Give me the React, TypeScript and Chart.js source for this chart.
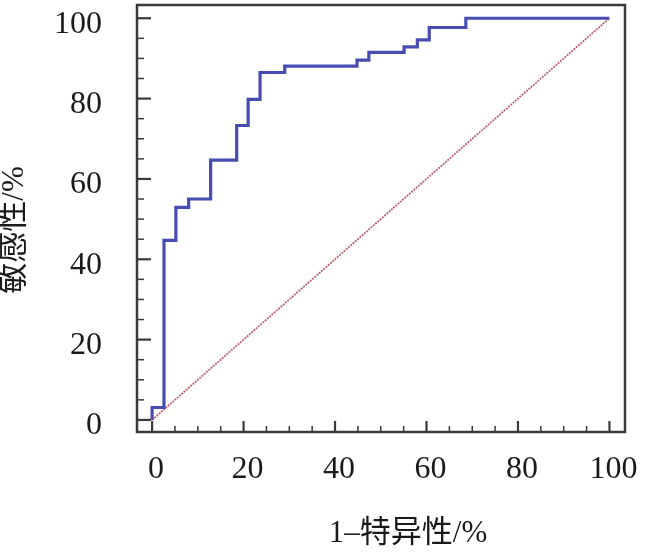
import { useEffect, useRef } from 'react';
import { Chart, registerables } from 'chart.js';

Chart.register(...registerables);

// ROC step curve corner points (1 - specificity, sensitivity), in %
const fpr = [0, 0, 2.6, 5.2, 8.0, 12.8, 18.5, 21.0, 23.6, 29.0, 44.8, 47.4, 55.1, 58.0, 60.6, 68.6, 100];
const tpr = [0, 3.1, 44.7, 52.9, 55.0, 64.7, 73.3, 79.8, 86.5, 88.1, 89.6, 91.5, 92.9, 94.6, 97.7, 100, 100];

// reference diagonal
const refX = [0, 100];
const refY = [0, 100];

const xTicks = [0, 20, 40, 60, 80, 100];
const yTicks = [0, 20, 40, 60, 80, 100];
const minorStep = 5;

const xTitle = '1–特异性/%';
const yTitle = '敏感性/%';

const serif = "'Liberation Serif', 'Times New Roman', 'Noto Sans CJK SC', serif";

const framePlugin = {
  id: 'frame',
  afterDraw(chart: any) {
    const { ctx, chartArea: a, scales } = chart;
    const xs = scales.x;
    const ys = scales.y;
    ctx.save();
    ctx.strokeStyle = '#3a3a3a';
    // inward ticks on bottom and left
    for (let v = 0; v <= 100; v += minorStep) {
      const major = v % 20 === 0;
      ctx.lineWidth = major ? 2.2 : 1.5;
      const px = xs.getPixelForValue(v);
      ctx.beginPath();
      ctx.moveTo(px, a.bottom);
      ctx.lineTo(px, a.bottom - (major ? 11 : 6));
      ctx.stroke();
      const py = ys.getPixelForValue(v);
      ctx.beginPath();
      ctx.moveTo(a.left, py);
      ctx.lineTo(a.left + (major ? 14 : 7), py);
      ctx.stroke();
    }
    ctx.lineWidth = 2.5;
    ctx.strokeRect(a.left, a.top, a.right - a.left, a.bottom - a.top);

    // axis titles
    ctx.fillStyle = '#1a1a1a';
    ctx.font = `31px ${serif}`;
    ctx.textAlign = 'center';
    ctx.textBaseline = 'middle';
    ctx.fillText(xTitle, 408, 534);
    ctx.translate(15, 230);
    ctx.rotate(-Math.PI / 2);
    ctx.fillText(yTitle, 0, 0);
    ctx.restore();
  },
};

const RocChart = () => {
  const canvasRef = useRef<HTMLCanvasElement | null>(null);

  useEffect(() => {
    if (!canvasRef.current) return;
    const chart = new Chart(canvasRef.current, {
      type: 'line',
      data: {
        datasets: [
          {
            label: 'ROC',
            data: fpr.map((x, i) => ({ x, y: tpr[i] })),
            borderColor: '#474cb0',
            borderWidth: 3.2,
            pointRadius: 0,
            stepped: 'before',
            fill: false,
          },
          {
            label: 'Reference',
            data: refX.map((x, i) => ({ x, y: refY[i] })),
            borderColor: '#b86474',
            borderWidth: 1.8,
            borderDash: [2, 1],
            pointRadius: 0,
            fill: false,
          },
        ],
      },
      options: {
        animation: false,
        responsive: true,
        maintainAspectRatio: false,
        layout: { padding: { top: 5, right: 21, left: 0, bottom: 0 } },
        plugins: {
          legend: { display: false },
          tooltip: { enabled: false },
        },
        scales: {
          x: {
            type: 'linear',
            min: -3.3,
            max: 103.4,
            grid: { display: false },
            border: { display: false },
            afterBuildTicks: (scale: any) => {
              scale.ticks = xTicks.map((value) => ({ value }));
            },
            afterFit: (scale: any) => {
              scale.height = 120;
              scale.paddingLeft = 0;
              scale.paddingRight = 0;
            },
            ticks: {
              padding: 10,
              labelOffset: 4,
              maxRotation: 0,
              color: '#1a1a1a',
              font: { family: serif, size: 32 },
            },
          },
          y: {
            type: 'linear',
            min: -3,
            max: 103.3,
            grid: { display: false },
            border: { display: false },
            afterBuildTicks: (scale: any) => {
              scale.ticks = yTicks.map((value) => ({ value }));
            },
            afterFit: (scale: any) => {
              scale.width = 137;
              scale.paddingTop = 0;
              scale.paddingBottom = 0;
            },
            ticks: {
              padding: 27,
              labelOffset: 6,
              color: '#1a1a1a',
              font: { family: serif, size: 32 },
            },
          },
        },
      },
      plugins: [framePlugin],
    });
    return () => chart.destroy();
  }, []);

  return (
    <div style={{ position: 'fixed', left: 0, top: 0, width: 646, height: 552, background: '#fff' }}>
      <canvas ref={canvasRef}></canvas>
    </div>
  );
};

export default function App() {
  return <RocChart />;
}
